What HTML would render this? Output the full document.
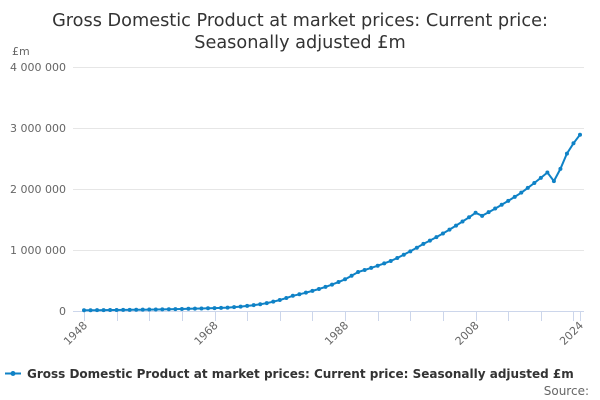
<!DOCTYPE html>
<html><head><meta charset="utf-8"><style>
body{margin:0;background:#fff;}
svg{display:block;font-family:"DejaVu Sans","Liberation Sans",sans-serif;}
</style></head><body>
<svg id="s" width="600" height="400" xmlns="http://www.w3.org/2000/svg">
<text x="300" y="26" text-anchor="middle" font-size="17.7" fill="#333">Gross Domestic Product at market prices: Current price:</text>
<text x="300" y="48" text-anchor="middle" font-size="17.7" fill="#333">Seasonally adjusted £m</text>
<text x="12" y="55" font-size="11" fill="#666">£m</text>
<g stroke="#e6e6e6" stroke-width="1">
<line x1="73" x2="584" y1="67.5" y2="67.5"/><line x1="73" x2="584" y1="128.5" y2="128.5"/>
<line x1="73" x2="584" y1="189.5" y2="189.5"/><line x1="73" x2="584" y1="250.5" y2="250.5"/>
</g>
<line x1="73" x2="584" y1="311.5" y2="311.5" stroke="#ccd6eb"/>
<g font-size="11" fill="#666" text-anchor="end">
<text x="66" y="71">4 000 000</text><text x="66" y="132">3 000 000</text>
<text x="66" y="193">2 000 000</text><text x="66" y="254">1 000 000</text><text x="66" y="315">0</text>
</g>
<g id="ticks" stroke="#ccd6eb"></g>
<g id="lab" font-size="11" fill="#666"></g>
<polyline id="ln" fill="none" stroke="#0f82c6" stroke-width="2"/>
<g id="dots" fill="#0f82c6"></g>
<line x1="5" x2="21" y1="373.5" y2="373.5" stroke="#0f82c6" stroke-width="2"/>
<circle cx="13" cy="373.5" r="2.5" fill="#0f82c6"/>
<text x="27" y="378" font-size="12" font-weight="bold" fill="#333">Gross Domestic Product at market prices: Current price: Seasonally adjusted £m</text>
<text x="589" y="395" font-size="12" fill="#666" text-anchor="end">Source:</text>
</svg>
<script>
var A=[[1948,0.012],[1960,0.027],[1970,0.055],[1975,0.11],[1980,0.25],[1988,0.52],[1990,0.64],[1995,0.82],[2000,1.10],[2005,1.40],[2008,1.61],[2009,1.56],[2010,1.62],[2015,1.94],[2019,2.27],[2020,2.13],[2021,2.33],[2022,2.58],[2023,2.75],[2024,2.89]];
function v(y){for(var i=0;i<A.length-1;i++){if(y>=A[i][0]&&y<=A[i+1][0]){var t=(y-A[i][0])/(A[i+1][0]-A[i][0]);return A[i][1]*Math.pow(A[i+1][1]/A[i][1],t);}}return A[A.length-1][1];}
var ns="http://www.w3.org/2000/svg",pts=[],d=document.getElementById('dots');
function X(y){return 84+(y-1948)*(496/76);}
for(var y=1948;y<=2024;y++){var px=X(y),py=311-v(y)*61;pts.push(px.toFixed(1)+","+py.toFixed(1));
var c=document.createElementNS(ns,'circle');c.setAttribute('cx',px);c.setAttribute('cy',py);c.setAttribute('r',2);d.appendChild(c);}
document.getElementById('ln').setAttribute('points',pts.join(' '));
var tk=document.getElementById('ticks');
var T=[];for(var y=1948;y<=2023;y+=5)T.push(y);T.push(2024);
T.forEach(function(y){var l=document.createElementNS(ns,'line');var x=Math.round(X(y))+0.5;l.setAttribute('x1',x);l.setAttribute('x2',x);l.setAttribute('y1',311);l.setAttribute('y2',321);tk.appendChild(l);});
var lb=document.getElementById('lab');
[1948,1968,1988,2008,2024].forEach(function(y){var t=document.createElementNS(ns,'text');var x=X(y)+4,yy=326;t.setAttribute('x',x);t.setAttribute('y',yy);t.setAttribute('text-anchor','end');t.setAttribute('transform','rotate(-45 '+x+' '+yy+')');t.textContent=y;lb.appendChild(t);});
</script>
</body></html>
